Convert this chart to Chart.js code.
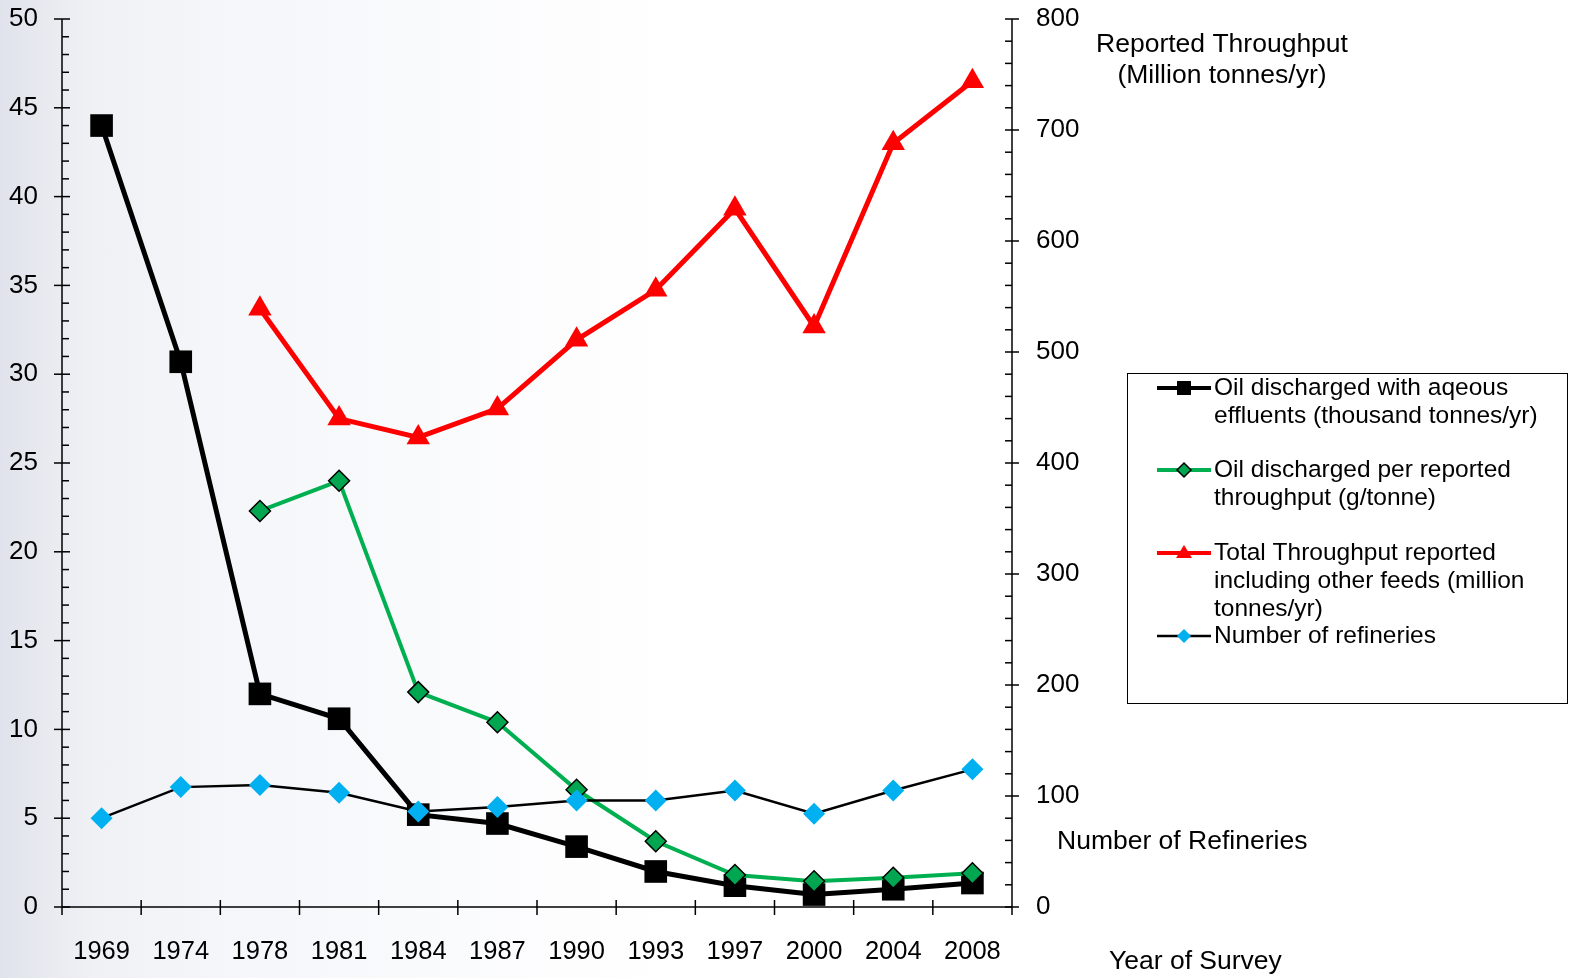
<!DOCTYPE html>
<html>
<head>
<meta charset="utf-8">
<title>Oil discharged with aqueous effluents</title>
<script src="https://cdn.jsdelivr.net/npm/chart.js@4.4.1/dist/chart.umd.min.js"></script>
<style>
  html, body { margin: 0; padding: 0; }
  body {
    width: 1571px;
    height: 978px;
    overflow: hidden;
    background: linear-gradient(to right, #e0e3eb 0%, #e8eaf0 3%, #eff1f5 6%, #f5f6f9 14%, #f9fafc 26%, #fdfdfe 36%, #ffffff 44%);
  }
</style>
</head>
<body>
<canvas id="chart" width="1571" height="978"></canvas>
<script>
const years = ["1969", "1974", "1978", "1981", "1984", "1987", "1990", "1993", "1997", "2000", "2004", "2008"];

// left axis (thousand tonnes/yr and g/tonne)
const oilDischarged = [44, 30.7, 12, 10.6, 5.2, 4.7, 3.4, 2.0, 1.2, 0.7, 1.0, 1.35];
const oilPerThroughput = [null, null, 22.3, 24.0, 12.1, 10.4, 6.6, 3.7, 1.8, 1.45, 1.65, 1.9];

// right axis (million tonnes/yr and count)
const throughput = [null, null, 539, 440, 423, 449, 511, 556, 629, 523, 688, 744];
const refineries = [80, 108, 110, 103, 86, 90, 96, 96, 105, 84, 105, 124];

const leftMax = 50, leftStep = 5, leftMinor = 1;
const rightMax = 800, rightStep = 100, rightMinor = 20;

const legendItems = [
  { lines: ["Oil discharged with aqeous", "effluents (thousand tonnes/yr)"], color: "#000000", width: 4, marker: "square", fill: "#000000" },
  { lines: ["Oil discharged per reported", "throughput (g/tonne)"], color: "#00b050", width: 4, marker: "diamond", fill: "#00a650", stroke: "#000000" },
  { lines: ["Total Throughput reported", "including other feeds (million", "tonnes/yr)"], color: "#ff0000", width: 4, marker: "triangle", fill: "#ff0000" },
  { lines: ["Number of refineries"], color: "#000000", width: 2.5, marker: "diamond", fill: "#00b0f0" }
];

const FONT = "'Liberation Sans', Arial, sans-serif";

function line(ctx, x1, y1, x2, y2) {
  ctx.beginPath();
  ctx.moveTo(x1, y1);
  ctx.lineTo(x2, y2);
  ctx.stroke();
}

function marker(ctx, item, x, y) {
  ctx.fillStyle = item.fill;
  ctx.beginPath();
  if (item.marker === "square") {
    ctx.rect(x - 7, y - 7, 14, 14);
  } else if (item.marker === "diamond") {
    ctx.moveTo(x, y - 7);
    ctx.lineTo(x + 7, y);
    ctx.lineTo(x, y + 7);
    ctx.lineTo(x - 7, y);
    ctx.closePath();
  } else {
    ctx.moveTo(x, y - 8);
    ctx.lineTo(x + 8, y + 5);
    ctx.lineTo(x - 8, y + 5);
    ctx.closePath();
  }
  ctx.fill();
  if (item.stroke) {
    ctx.strokeStyle = item.stroke;
    ctx.lineWidth = 1.5;
    ctx.stroke();
  }
}

const decorations = {
  id: "decorations",
  afterDraw(chart) {
    const ctx = chart.ctx;
    const { left, right, top, bottom } = chart.chartArea;
    const xs = chart.scales.x, y = chart.scales.y, y2 = chart.scales.y2;

    ctx.save();
    ctx.strokeStyle = "#000";
    ctx.lineWidth = 1.5;

    // axis lines
    line(ctx, left, top, left, bottom + 8);
    line(ctx, right, top, right, bottom + 8);
    line(ctx, left, bottom, right, bottom);

    // left ticks
    for (let v = 0; v <= leftMax; v += leftMinor) {
      const py = y.getPixelForValue(v);
      if (v % leftStep === 0) line(ctx, left - 8, py, left + 8, py);
      else line(ctx, left, py, left + 7, py);
    }
    // right ticks
    for (let v = 0; v <= rightMax; v += rightMinor) {
      const py = y2.getPixelForValue(v);
      if (v % rightStep === 0) line(ctx, right - 7, py, right + 7, py);
      else line(ctx, right - 7, py, right, py);
    }
    // category boundary ticks
    for (let i = 1; i < years.length; i++) {
      const px = (xs.getPixelForTick(i - 1) + xs.getPixelForTick(i)) / 2;
      line(ctx, px, bottom - 7, px, bottom + 8);
    }

    // axis titles
    ctx.fillStyle = "#000";
    ctx.font = "26.5px " + FONT;
    ctx.textBaseline = "middle";
    ctx.textAlign = "center";
    ctx.fillText("Reported Throughput", 1222, 45);
    ctx.fillText("(Million tonnes/yr)", 1222, 76);
    ctx.textAlign = "left";
    ctx.fillText("Number of Refineries", 1057, 842);
    ctx.fillText("Year of Survey", 1109, 962);

    // legend
    ctx.lineWidth = 1;
    ctx.strokeStyle = "#000";
    ctx.strokeRect(1127.5, 373.5, 440, 330);
    const starts = [388, 470, 553, 636];
    legendItems.forEach((item, i) => {
      const ly = starts[i];
      ctx.strokeStyle = item.color;
      ctx.lineWidth = item.width;
      line(ctx, 1157, ly, 1211, ly);
      marker(ctx, item, 1184, ly);
      ctx.fillStyle = "#000";
      ctx.font = "24.5px " + FONT;
      ctx.textAlign = "left";
      ctx.textBaseline = "middle";
      item.lines.forEach((t, k) => ctx.fillText(t, 1214, ly + k * 28));
    });
    ctx.restore();
  }
};

const yFont = { family: FONT, size: 26 };
const xFont = { family: FONT, size: 25.5 };

function noPadY(s, w) {
  s.width = w;
  s.paddingTop = 0;
  s.paddingBottom = 0;
}

new Chart(document.getElementById("chart"), {
  type: "line",
  data: {
    labels: years,
    datasets: [
      {
        label: "Number of refineries",
        data: refineries,
        yAxisID: "y2",
        order: 1,
        borderColor: "#000000",
        borderWidth: 2.5,
        pointStyle: "rectRot",
        pointRadius: 11,
        pointHoverRadius: 11,
        pointBackgroundColor: "#00b0f0",
        pointBorderWidth: 0
      },
      {
        label: "Oil discharged per reported throughput (g/tonne)",
        data: oilPerThroughput,
        yAxisID: "y",
        order: 2,
        borderColor: "#00b050",
        borderWidth: 4,
        pointStyle: "rectRot",
        pointRadius: 10.5,
        pointHoverRadius: 10.5,
        pointBackgroundColor: "#00a650",
        pointBorderColor: "#000000",
        pointBorderWidth: 1.5
      },
      {
        label: "Total Throughput reported including other feeds (million tonnes/yr)",
        data: throughput,
        yAxisID: "y2",
        order: 3,
        borderColor: "#ff0000",
        borderWidth: 5,
        pointStyle: "triangle",
        pointRadius: 13.5,
        pointHoverRadius: 13.5,
        pointBackgroundColor: "#ff0000",
        pointBorderWidth: 0
      },
      {
        label: "Oil discharged with aqeous effluents (thousand tonnes/yr)",
        data: oilDischarged,
        yAxisID: "y",
        order: 4,
        borderColor: "#000000",
        borderWidth: 5,
        pointStyle: "rect",
        pointRadius: 16,
        pointHoverRadius: 16,
        pointBackgroundColor: "#000000",
        pointBorderWidth: 0
      }
    ]
  },
  options: {
    responsive: false,
    animation: false,
    layout: { padding: { top: 19 } },
    plugins: {
      legend: { display: false },
      tooltip: { enabled: false }
    },
    scales: {
      x: {
        type: "category",
        offset: true,
        grid: { display: false, drawTicks: false },
        border: { display: false },
        ticks: { font: xFont, color: "#000", padding: 30, maxRotation: 0, autoSkip: false },
        afterFit: (s) => { s.height = 71; s.paddingLeft = 0; s.paddingRight = 0; }
      },
      y: {
        position: "left",
        min: 0,
        max: leftMax,
        grid: { display: false, drawTicks: false },
        border: { display: false },
        ticks: { stepSize: leftStep, font: yFont, color: "#000", padding: 24 },
        afterFit: (s) => noPadY(s, 62)
      },
      y2: {
        position: "right",
        min: 0,
        max: rightMax,
        grid: { display: false, drawTicks: false },
        border: { display: false },
        ticks: { stepSize: rightStep, font: yFont, color: "#000", padding: 24 },
        afterFit: (s) => noPadY(s, 559)
      }
    }
  },
  plugins: [decorations]
});
</script>
</body>
</html>
